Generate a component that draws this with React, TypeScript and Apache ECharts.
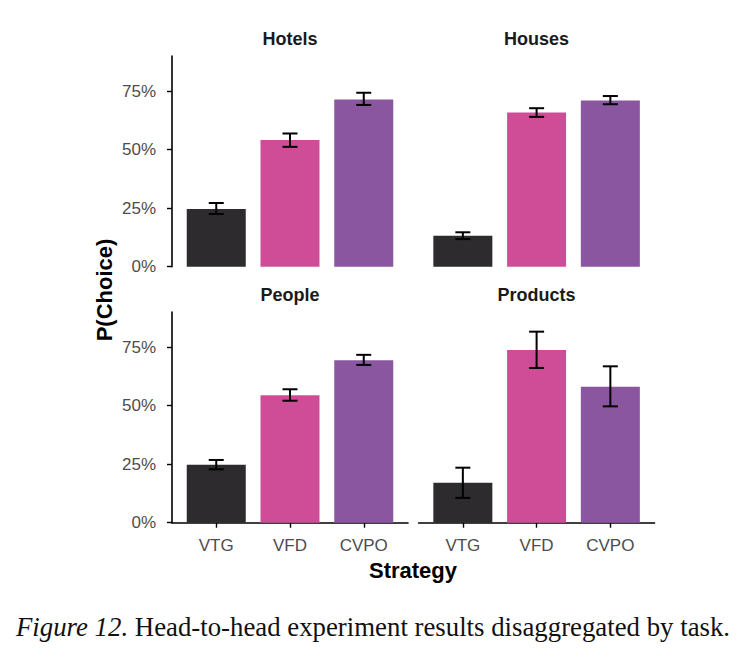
import React, { useEffect, useRef } from "react";
import * as echarts from "echarts";

// Strategies compared in each task panel
const strategies = ["VTG", "VFD", "CVPO"];
const strategyColors = ["#2d2b2d", "#cf4d97", "#8a56a0"];
const tasks = ["Hotels", "Houses", "People", "Products"];

// P(Choice) in percent, one value per strategy
const hotelsMean = [24.6, 54.1, 71.4];
const hotelsLow = [22.5, 51.2, 69.1];
const hotelsHigh = [27.2, 56.9, 74.3];

const housesMean = [13.2, 65.9, 71.0];
const housesLow = [11.8, 64.0, 69.4];
const housesHigh = [14.7, 67.7, 72.9];

const peopleMean = [24.7, 54.4, 69.4];
const peopleLow = [22.8, 52.1, 67.4];
const peopleHigh = [26.8, 57.0, 71.7];

const productsMean = [17.1, 73.8, 58.1];
const productsLow = [10.6, 66.1, 49.7];
const productsHigh = [23.5, 81.6, 66.8];

const yTicks = [0, 25, 50, 75];

const means = [hotelsMean, housesMean, peopleMean, productsMean];
const lows = [hotelsLow, housesLow, peopleLow, productsLow];
const highs = [hotelsHigh, housesHigh, peopleHigh, productsHigh];

const FONT = "'Liberation Sans', Arial, Helvetica, sans-serif";
const SERIF = "'Liberation Serif', 'Times New Roman', serif";

// panel boxes: [left, top, width, height]
const panels = [
  [172, 56, 236, 210.7],
  [418.6, 56, 236, 210.7],
  [172, 312, 236, 210.7],
  [418.6, 312, 236, 210.7],
];

export default function App() {
  const ref = useRef<HTMLDivElement>(null);

  useEffect(() => {
    if (!ref.current) return;
    const chart = echarts.init(ref.current, null, { renderer: "svg" });

    const grids = panels.map((p) => ({
      left: p[0],
      top: p[1],
      width: p[2],
      height: p[3],
      containLabel: false,
    }));

    const xAxes = panels.map((_, i) => {
      const bottom = i >= 2;
      return {
        type: "value",
        gridIndex: i,
        min: 0.4,
        max: 3.6,
        splitLine: { show: false },
        axisLine: { show: bottom, lineStyle: { color: "#000", width: 1.6 } },
        axisTick: {
          show: bottom,
          length: 5,
          customValues: [1, 2, 3],
          lineStyle: { color: "#000", width: 1.4 },
        },
        axisLabel: {
          show: bottom,
          customValues: [1, 2, 3],
          formatter: (v: number) => strategies[Math.round(v) - 1] ?? "",
          color: "#4d4d4d",
          fontFamily: FONT,
          fontSize: 17,
          margin: 14,
        },
      };
    });

    const yAxes = panels.map((_, i) => {
      const left = i % 2 === 0;
      return {
        type: "value",
        gridIndex: i,
        min: 0,
        max: 90,
        interval: 25,
        splitLine: { show: false },
        axisLine: { show: left, onZero: false, lineStyle: { color: "#000", width: 1.6 } },
        axisTick: {
          show: left,
          length: 5,
          customValues: yTicks,
          lineStyle: { color: "#000", width: 1.4 },
        },
        axisLabel: {
          show: left,
          customValues: yTicks,
          formatter: (v: number) => `${v}%`,
          color: "#4d4d4d",
          fontFamily: FONT,
          fontSize: 17,
          margin: 16,
        },
      };
    });

    const series: any[] = [];
    panels.forEach((_, i) => {
      series.push({
        type: "bar",
        xAxisIndex: i,
        yAxisIndex: i,
        barWidth: 59,
        z: 2,
        data: means[i].map((v, k) => ({
          value: [k + 1, v],
          itemStyle: { color: strategyColors[k] },
        })),
      });
      // error bars drawn over the bars
      series.push({
        type: "custom",
        xAxisIndex: i,
        yAxisIndex: i,
        z: 5,
        encode: { x: 0, y: [1, 2] },
        data: lows[i].map((lo, k) => [k + 1, lo, highs[i][k]]),
        renderItem: (_params: any, api: any) => {
          const x = api.value(0);
          const lo = api.coord([x, api.value(1)]);
          const hi = api.coord([x, api.value(2)]);
          const half = 7.5;
          const style = { stroke: "#000", lineWidth: 2 };
          return {
            type: "group",
            children: [
              { type: "line", shape: { x1: lo[0], y1: lo[1], x2: hi[0], y2: hi[1] }, style },
              { type: "line", shape: { x1: hi[0] - half, y1: hi[1], x2: hi[0] + half, y2: hi[1] }, style },
              { type: "line", shape: { x1: lo[0] - half, y1: lo[1], x2: lo[0] + half, y2: lo[1] }, style },
            ],
          };
        },
      });
    });

    const titleTexts = panels.map((p, i) => ({
      type: "text",
      x: p[0] + p[2] / 2,
      y: p[1] - 17,
      style: {
        text: tasks[i],
        align: "center",
        verticalAlign: "middle",
        fontFamily: FONT,
        fontWeight: "bold",
        fontSize: 18,
        fill: "#1a1a1a",
      },
    }));

    chart.setOption({
      animation: false,
      backgroundColor: "#ffffff",
      grid: grids,
      xAxis: xAxes,
      yAxis: yAxes,
      series,
      graphic: [
        ...titleTexts,
        {
          type: "text",
          x: 104,
          y: 290,
          rotation: Math.PI / 2,
          style: {
            text: "P(Choice)",
            align: "center",
            verticalAlign: "middle",
            fontFamily: FONT,
            fontWeight: "bold",
            fontSize: 22,
            fill: "#000",
          },
        },
        {
          type: "text",
          x: 413,
          y: 570,
          style: {
            text: "Strategy",
            align: "center",
            verticalAlign: "middle",
            fontFamily: FONT,
            fontWeight: "bold",
            fontSize: 22,
            fill: "#000",
          },
        },
        {
          type: "text",
          x: 373,
          y: 627,
          style: {
            text: "{i|Figure 12.} Head-to-head experiment results disaggregated by task.",
            align: "center",
            verticalAlign: "middle",
            fontFamily: SERIF,
            fontSize: 26.8,
            fill: "#111",
            rich: {
              i: {
                fontStyle: "italic",
                fontFamily: SERIF,
                fontSize: 26.8,
                fill: "#111",
              },
            },
          },
        },
      ],
    });

    return () => chart.dispose();
  }, []);

  return (
    <div
      ref={ref}
      style={{ position: "fixed", left: 0, top: 0, width: 747, height: 658, background: "#fff" }}
    />
  );
}
